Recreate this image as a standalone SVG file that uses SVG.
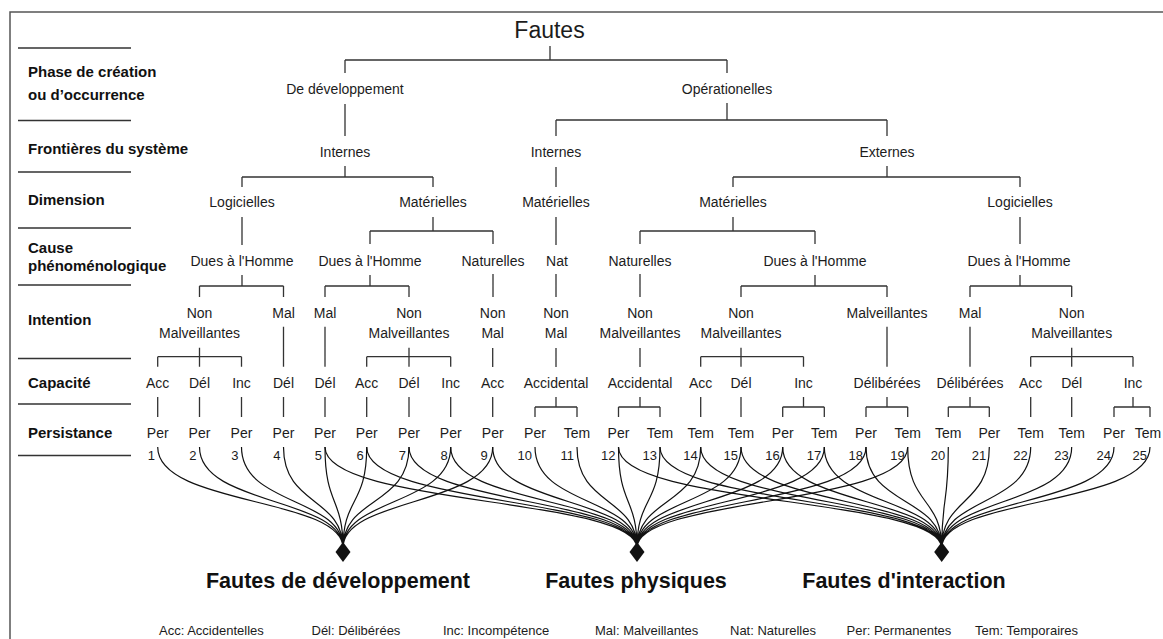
<svg xmlns="http://www.w3.org/2000/svg" width="1163" height="639" viewBox="0 0 1163 639">
<style>
text{font-family:"Liberation Sans",Arial,sans-serif;fill:#1c1c1c}
.lbl{font-size:15px;font-weight:bold;fill:#111}
.n{font-size:14px;text-anchor:middle}
.num{font-size:13px;text-anchor:end}
.title{font-size:23px;text-anchor:middle}
.big{font-size:21.5px;font-weight:bold;text-anchor:middle;fill:#111}
.leg{font-size:13px}
.t{stroke:#333;stroke-width:1.3;fill:none}
.c{stroke:#111;stroke-width:1.2;fill:none}
.sep{stroke:#333;stroke-width:1.3}
.frame{stroke:#555;stroke-width:1.5;fill:none}
.head{fill:#111}
</style>
<rect x="0" y="0" width="1163" height="639" fill="#fff"/>
<path class="frame" d="M10,639V12H1163"/>

<g id="left-labels">
<path class="sep" d="M18,48H131M18,120.5H131M18,172H131M18,228H131M18,285H131M18,358.5H131M18,404H131M18,455.5H131"/>
<text class="lbl" x="28" y="77">Phase de création</text>
<text class="lbl" x="28" y="100">ou d’occurrence</text>
<text class="lbl" x="28" y="153.5">Frontières du système</text>
<text class="lbl" x="28" y="205">Dimension</text>
<text class="lbl" x="28" y="252.5">Cause</text>
<text class="lbl" x="28" y="271">phénoménologique</text>
<text class="lbl" x="28" y="325">Intention</text>
<text class="lbl" x="28" y="388">Capacité</text>
<text class="lbl" x="28" y="438">Persistance</text>
</g>

<g id="connectors">
<path class="t" d="M550,46V60M345,60H727M345,60V73M727,60V73
M345,104V136
M727,103V120M556,120H887M556,120V136M887,120V136
M345,166V177M242,177H433M242,177V187M433,177V187
M556,167V187
M887,166V177M733,177H1020M733,177V187M1020,177V187
M242,217V245
M433,217V231M370,231H493M370,231V244M493,231V244
M556,217V245
M733,217V231M640,231H815M640,231V244M815,231V244
M1020,217V244
M242,275V286M199.5,286H283.5M199.5,286V297M283.5,286V297
M370,275V286M325,286H409M325,286V297M409,286V297
M493,274V297
M556,274V297
M640,274V297
M815,275V286M741,286H887M741,286V297M887,286V297
M1020,275V286M970,286H1071.7M970,286V297M1071.7,286V297
M199.5,347.7V366.7M157.7,356.7H241.5M157.7,356.7V366.7M241.5,356.7V366.7
M283.5,326.7V366.7
M325,326.7V366.7
M409,347.7V366.7M366.7,356.7H450.7M366.7,356.7V366.7M450.7,356.7V366.7
M492.7,348V367
M556,348V367
M640,348V367
M741,347.7V366.7M700.7,356.7H803.5M700.7,356.7V366.7M803.5,356.7V366.7
M887,326.7V366.7
M970,326.7V366.7
M1071.7,347.7V366.7M1030.7,356.7H1133M1030.7,356.7V366.7M1133,356.7V366.7
M157.7,397V417M199.5,397V417M241.5,397V417M283.5,397V417M325,397V417M366.7,397V417M409,397V417M450.7,397V417M492.7,397V417
M556,397V407M535,407H577M535,407V417M577,407V417
M640,397V407M618.5,407H660M618.5,407V417M660,407V417
M700.7,397V417M741,397V417
M803.5,397V407M782.7,407H824.3M782.7,407V417M824.3,407V417
M887,397V407M866,407H907.7M866,407V417M907.7,407V417
M970,397V407M948.3,407H989.3M948.3,407V417M989.3,407V417
M1030.7,397V417M1071.7,397V417
M1133,397V407M1114,407H1150M1114,407V417M1150,407V417"/>
<g id="curves">
<path class="c" d="M157.7,447C157.7,506 343,497 343,548M199.5,447C199.5,506 343,497 343,548M241.5,447C241.5,506 343,497 343,548M283.5,447C283.5,506 343,497 343,548M325,447C325,506 343,497 343,548M366.7,447C366.7,506 343,497 343,548M409,447C409,506 343,497 343,548M450.7,447C450.7,506 343,497 343,548M492.7,447C492.7,506 343,497 343,548"/>
<path class="c" d="M325,447C325,506 637,497 637,548M366.7,447C366.7,506 637,497 637,548M409,447C409,506 637,497 637,548M450.7,447C450.7,506 637,497 637,548M492.7,447C492.7,506 637,497 637,548M535,447C535,506 637,497 637,548M577,447C577,506 637,497 637,548M618.5,447C618.5,506 637,497 637,548M660,447C660,506 637,497 637,548M700.7,447C700.7,506 637,497 637,548M741,447C741,506 637,497 637,548M782.7,447C782.7,506 637,497 637,548M824.3,447C824.3,506 637,497 637,548M866,447C866,506 637,497 637,548M907.7,447C907.7,506 637,497 637,548"/>
<path class="c" d="M618.5,447C618.5,506 941.7,497 941.7,548M660,447C660,506 941.7,497 941.7,548M700.7,447C700.7,506 941.7,497 941.7,548M741,447C741,506 941.7,497 941.7,548M782.7,447C782.7,506 941.7,497 941.7,548M824.3,447C824.3,506 941.7,497 941.7,548M866,447C866,506 941.7,497 941.7,548M907.7,447C907.7,506 941.7,497 941.7,548M948.3,447C948.3,506 941.7,497 941.7,548M989.3,447C989.3,506 941.7,497 941.7,548M1030.7,447C1030.7,506 941.7,497 941.7,548M1071.7,447C1071.7,506 941.7,497 941.7,548M1114,447C1114,506 941.7,497 941.7,548M1150,447C1150,506 941.7,497 941.7,548"/>
<polygon class="head" points="343,542 350.5,552 343,562 335.5,552"/>
<polygon class="head" points="637,542 644.5,552 637,562 629.5,552"/>
<polygon class="head" points="941.7,542 949.2,552 941.7,562 934.2,552"/>
</g>
</g>

<g id="root"><text class="title" x="549.5" y="38">Fautes</text></g>
<g id="phase">
<g id="n-dev"><text class="n" x="345" y="93.5">De développement</text></g>
<g id="n-op"><text class="n" x="727" y="93.5">Opérationelles</text></g>
</g>
<g id="frontieres">
<g id="n-int1"><text class="n" x="345" y="157">Internes</text></g>
<g id="n-int2"><text class="n" x="556" y="157">Internes</text></g>
<g id="n-ext"><text class="n" x="887" y="157">Externes</text></g>
</g>
<g id="dimension">
<g id="n-log1"><text class="n" x="242" y="207">Logicielles</text></g>
<g id="n-mat1"><text class="n" x="433" y="207">Matérielles</text></g>
<g id="n-mat2"><text class="n" x="556" y="207">Matérielles</text></g>
<g id="n-mat3"><text class="n" x="733" y="207">Matérielles</text></g>
<g id="n-log2"><text class="n" x="1020" y="207">Logicielles</text></g>
</g>
<g id="cause">
<g id="c1"><text class="n" x="242" y="266">Dues à l'Homme</text></g>
<g id="c2"><text class="n" x="370" y="266">Dues à l'Homme</text></g>
<g id="c3"><text class="n" x="493" y="266">Naturelles</text></g>
<g id="c4"><text class="n" x="557" y="266">Nat</text></g>
<g id="c5"><text class="n" x="640" y="266">Naturelles</text></g>
<g id="c6"><text class="n" x="815" y="266">Dues à l'Homme</text></g>
<g id="c7"><text class="n" x="1019" y="266">Dues à l'Homme</text></g>
</g>
<g id="intention">
<g id="i1"><text class="n" x="199.5" y="318">Non</text><text class="n" x="199.5" y="338">Malveillantes</text></g>
<g id="i2"><text class="n" x="283.5" y="318">Mal</text></g>
<g id="i3"><text class="n" x="325" y="318">Mal</text></g>
<g id="i4"><text class="n" x="409" y="318">Non</text><text class="n" x="409" y="338">Malveillantes</text></g>
<g id="i5"><text class="n" x="492.7" y="318">Non</text><text class="n" x="492.7" y="338">Mal</text></g>
<g id="i6"><text class="n" x="556" y="318">Non</text><text class="n" x="556" y="338">Mal</text></g>
<g id="i7"><text class="n" x="640" y="318">Non</text><text class="n" x="640" y="338">Malveillantes</text></g>
<g id="i8"><text class="n" x="741" y="318">Non</text><text class="n" x="741" y="338">Malveillantes</text></g>
<g id="i9"><text class="n" x="887" y="318">Malveillantes</text></g>
<g id="i10"><text class="n" x="970" y="318">Mal</text></g>
<g id="i11"><text class="n" x="1071.7" y="318">Non</text><text class="n" x="1071.7" y="338">Malveillantes</text></g>
</g>
<g id="capacite">
<g id="k1"><text class="n" x="157.7" y="388">Acc</text></g>
<g id="k2"><text class="n" x="199.5" y="388">Dél</text></g>
<g id="k3"><text class="n" x="241.5" y="388">Inc</text></g>
<g id="k4"><text class="n" x="283.5" y="388">Dél</text></g>
<g id="k5"><text class="n" x="325" y="388">Dél</text></g>
<g id="k6"><text class="n" x="366.7" y="388">Acc</text></g>
<g id="k7"><text class="n" x="409" y="388">Dél</text></g>
<g id="k8"><text class="n" x="450.7" y="388">Inc</text></g>
<g id="k9"><text class="n" x="492.7" y="388">Acc</text></g>
<g id="k10"><text class="n" x="556" y="388">Accidental</text></g>
<g id="k11"><text class="n" x="640" y="388">Accidental</text></g>
<g id="k12"><text class="n" x="700.7" y="388">Acc</text></g>
<g id="k13"><text class="n" x="741" y="388">Dél</text></g>
<g id="k14"><text class="n" x="803.5" y="388">Inc</text></g>
<g id="k15"><text class="n" x="887" y="388">Délibérées</text></g>
<g id="k16"><text class="n" x="970" y="388">Délibérées</text></g>
<g id="k17"><text class="n" x="1030.7" y="388">Acc</text></g>
<g id="k18"><text class="n" x="1071.7" y="388">Dél</text></g>
<g id="k19"><text class="n" x="1133" y="388">Inc</text></g>
</g>
<g id="persistance">
<g id="p1"><text class="n" x="157.7" y="438">Per</text><text class="num" x="155" y="460">1</text></g>
<g id="p2"><text class="n" x="199.5" y="438">Per</text><text class="num" x="196.5" y="460">2</text></g>
<g id="p3"><text class="n" x="241.5" y="438">Per</text><text class="num" x="238.5" y="460">3</text></g>
<g id="p4"><text class="n" x="283.5" y="438">Per</text><text class="num" x="280.5" y="460">4</text></g>
<g id="p5"><text class="n" x="325" y="438">Per</text><text class="num" x="322" y="460">5</text></g>
<g id="p6"><text class="n" x="366.7" y="438">Per</text><text class="num" x="363.7" y="460">6</text></g>
<g id="p7"><text class="n" x="409" y="438">Per</text><text class="num" x="406" y="460">7</text></g>
<g id="p8"><text class="n" x="450.7" y="438">Per</text><text class="num" x="447.7" y="460">8</text></g>
<g id="p9"><text class="n" x="492.7" y="438">Per</text><text class="num" x="487.7" y="460">9</text></g>
<g id="p10"><text class="n" x="535" y="438">Per</text><text class="num" x="532" y="460">10</text></g>
<g id="p11"><text class="n" x="577" y="438">Tem</text><text class="num" x="574" y="460">11</text></g>
<g id="p12"><text class="n" x="618.5" y="438">Per</text><text class="num" x="615.5" y="460">12</text></g>
<g id="p13"><text class="n" x="660" y="438">Tem</text><text class="num" x="657" y="460">13</text></g>
<g id="p14"><text class="n" x="700.7" y="438">Tem</text><text class="num" x="697.7" y="460">14</text></g>
<g id="p15"><text class="n" x="741" y="438">Tem</text><text class="num" x="738" y="460">15</text></g>
<g id="p16"><text class="n" x="782.7" y="438">Per</text><text class="num" x="779.7" y="460">16</text></g>
<g id="p17"><text class="n" x="824.3" y="438">Tem</text><text class="num" x="821.3" y="460">17</text></g>
<g id="p18"><text class="n" x="866" y="438">Per</text><text class="num" x="863" y="460">18</text></g>
<g id="p19"><text class="n" x="907.7" y="438">Tem</text><text class="num" x="904.7" y="460">19</text></g>
<g id="p20"><text class="n" x="948.3" y="438">Tem</text><text class="num" x="945.3" y="460">20</text></g>
<g id="p21"><text class="n" x="989.3" y="438">Per</text><text class="num" x="986.3" y="460">21</text></g>
<g id="p22"><text class="n" x="1030.7" y="438">Tem</text><text class="num" x="1027.7" y="460">22</text></g>
<g id="p23"><text class="n" x="1071.7" y="438">Tem</text><text class="num" x="1068.7" y="460">23</text></g>
<g id="p24"><text class="n" x="1114" y="438">Per</text><text class="num" x="1111" y="460">24</text></g>
<g id="p25"><text class="n" x="1148" y="438">Tem</text><text class="num" x="1147" y="460">25</text></g>
</g>
<g id="classes">
<g id="f-dev"><text class="big" x="338" y="588">Fautes de développement</text></g>
<g id="f-phys"><text class="big" x="636" y="588">Fautes physiques</text></g>
<g id="f-inter"><text class="big" x="904" y="588">Fautes d'interaction</text></g>
</g>
<g id="legend">
<text class="leg" x="159" y="635">Acc: Accidentelles</text>
<text class="leg" x="311.5" y="635">Dél: Délibérées</text>
<text class="leg" x="443" y="635">Inc: Incompétence</text>
<text class="leg" x="595" y="635">Mal: Malveillantes</text>
<text class="leg" x="730" y="635">Nat: Naturelles</text>
<text class="leg" x="846.5" y="635">Per: Permanentes</text>
<text class="leg" x="975" y="635">Tem: Temporaires</text>
</g>
</svg>
